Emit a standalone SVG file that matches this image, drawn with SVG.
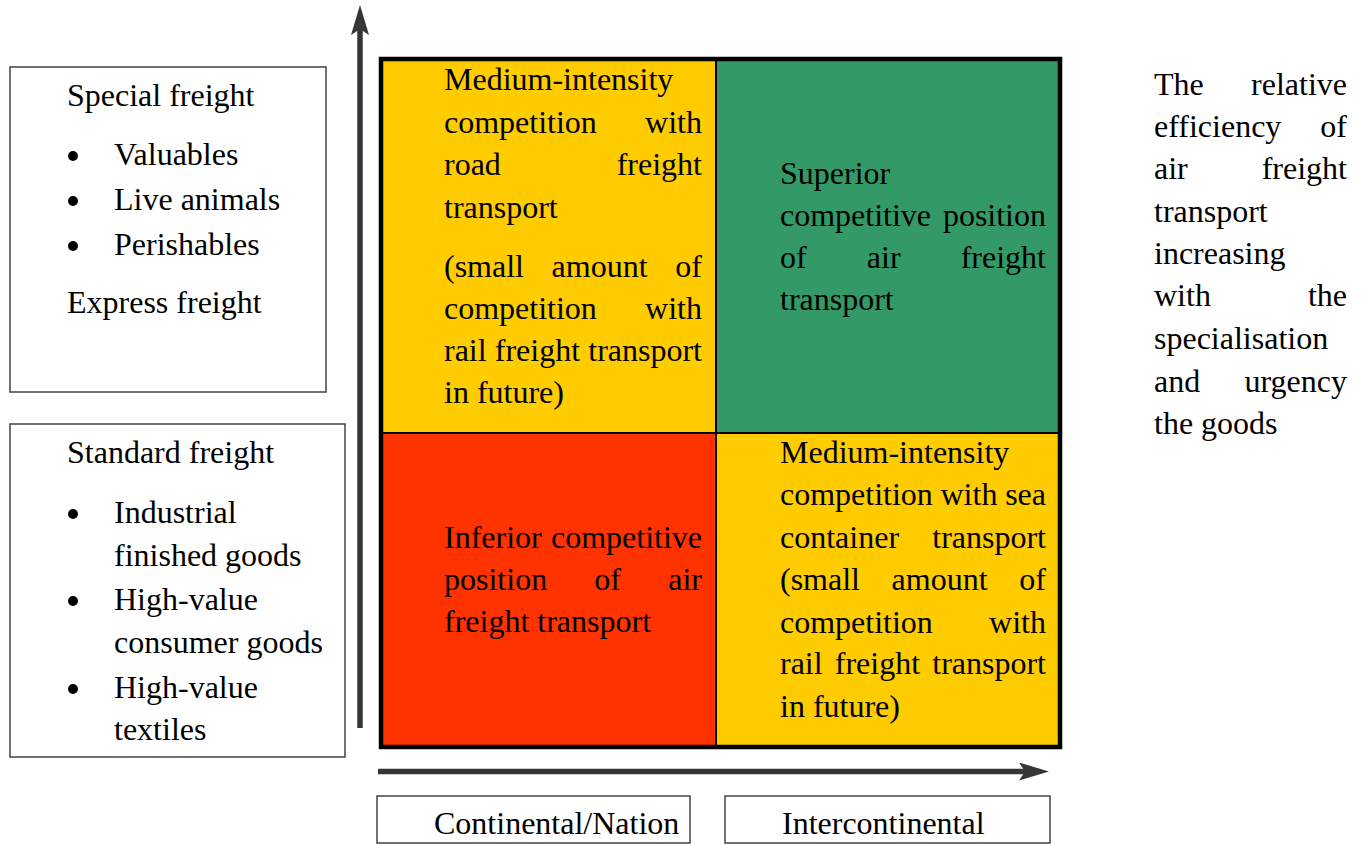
<svg xmlns="http://www.w3.org/2000/svg" width="1364" height="845" viewBox="0 0 1364 845">
<style>
.t{font-family:"Liberation Serif","Times New Roman",serif;font-size:32px;fill:#000}
.e{text-anchor:end}
.box{fill:#fff;stroke:#444;stroke-width:1.5}
.ax{stroke:#363636;stroke-width:5.5;fill:none}
.div{stroke:#000;stroke-width:2}
.bul{fill:#000}
</style>
<defs>
<marker id="ah" markerUnits="userSpaceOnUse" markerWidth="30" markerHeight="18" viewBox="0 0 30 18" refX="6" refY="9" orient="auto">
<path d="M0,0 L30,9 L0,18 L6,9 Z" fill="#363636"/>
</marker>
</defs>
<rect width="1364" height="845" fill="#fff"/>

<g id="connectors">
<line class="ax" x1="360" y1="728" x2="360" y2="29" marker-end="url(#ah)"/>
<line class="ax" x1="378" y1="771.5" x2="1025" y2="771.5" marker-end="url(#ah)"/>
</g>

<g id="special-freight">
<rect class="box" x="10" y="67" width="316" height="325"/>
<text class="t" x="67" y="106">Special freight</text>
<circle class="bul" cx="73" cy="156" r="5"/><text class="t" x="114" y="165">Valuables</text>
<circle class="bul" cx="73" cy="201" r="5"/><text class="t" x="114" y="210">Live animals</text>
<circle class="bul" cx="73" cy="246" r="5"/><text class="t" x="114" y="255">Perishables</text>
<text class="t" x="67" y="313">Express freight</text>
</g>

<g id="standard-freight">
<rect class="box" x="10" y="424" width="335" height="333"/>
<text class="t" x="67" y="463">Standard freight</text>
<circle class="bul" cx="73" cy="514" r="5"/><text class="t" x="114" y="523">Industrial</text>
<text class="t" x="114" y="566">finished goods</text>
<circle class="bul" cx="73" cy="601" r="5"/><text class="t" x="114" y="610">High-value</text>
<text class="t" x="114" y="653">consumer goods</text>
<circle class="bul" cx="73" cy="689" r="5"/><text class="t" x="114" y="698">High-value</text>
<text class="t" x="114" y="740">textiles</text>
</g>

<g id="cell-top-left">
<rect x="381" y="59" width="335" height="374" fill="#FFCC00"/>
<text class="t" x="444" y="90">Medium-intensity</text>
<text class="t" x="444" y="132.5">competition</text><text class="t e" x="702" y="132.5">with</text>
<text class="t" x="444" y="175">road</text><text class="t e" x="702" y="175">freight</text>
<text class="t" x="444" y="217.5">transport</text>
<text class="t" x="444" y="277">(small</text><text class="t" x="551.6" y="277">amount</text><text class="t e" x="702" y="277">of</text>
<text class="t" x="444" y="319">competition</text><text class="t e" x="702" y="319">with</text>
<text class="t" x="444" y="361">rail</text><text class="t" x="494.8" y="361">freight</text><text class="t e" x="702" y="361">transport</text>
<text class="t" x="444" y="403">in future)</text>
</g>

<g id="cell-top-right">
<rect x="716" y="59" width="344" height="374" fill="#339966"/>
<text class="t" x="780" y="184">Superior</text>
<text class="t" x="780" y="226">competitive</text><text class="t e" x="1046" y="226">position</text>
<text class="t" x="780" y="268">of</text><text class="t" x="866.8" y="268">air</text><text class="t e" x="1046" y="268">freight</text>
<text class="t" x="780" y="310">transport</text>
</g>

<g id="cell-bottom-left">
<rect x="381" y="433" width="335" height="314" fill="#FF3300"/>
<text class="t" x="444" y="548">Inferior</text><text class="t e" x="702" y="548">competitive</text>
<text class="t" x="444" y="590">position</text><text class="t" x="594.3" y="590">of</text><text class="t e" x="702" y="590">air</text>
<text class="t" x="444" y="632">freight transport</text>
</g>

<g id="cell-bottom-right">
<rect x="716" y="433" width="344" height="314" fill="#FFCC00"/>
<text class="t" x="780" y="463">Medium-intensity</text>
<text class="t" x="780" y="505">competition</text><text class="t" x="940.5" y="505">with</text><text class="t e" x="1046" y="505">sea</text>
<text class="t" x="780" y="548">container</text><text class="t e" x="1046" y="548">transport</text>
<text class="t" x="780" y="590">(small</text><text class="t" x="891.6" y="590">amount</text><text class="t e" x="1046" y="590">of</text>
<text class="t" x="780" y="632.5">competition</text><text class="t e" x="1046" y="632.5">with</text>
<text class="t" x="780" y="674">rail</text><text class="t" x="834.8" y="674">freight</text><text class="t e" x="1046" y="674">transport</text>
<text class="t" x="780" y="717">in future)</text>
</g>

<g id="grid-frame">
<line class="div" x1="716" y1="59" x2="716" y2="747"/>
<line class="div" x1="381" y1="433" x2="1060" y2="433"/>
<rect x="381" y="59" width="679" height="688" fill="none" stroke="#000" stroke-width="4.5"/>
</g>

<g id="efficiency-note">
<text class="t" x="1154" y="95">The</text><text class="t e" x="1347" y="95">relative</text>
<text class="t" x="1154" y="137">efficiency</text><text class="t e" x="1347" y="137">of</text>
<text class="t" x="1154" y="179">air</text><text class="t e" x="1347" y="179">freight</text>
<text class="t" x="1154" y="222">transport</text>
<text class="t" x="1154" y="264">increasing</text>
<text class="t" x="1154" y="306">with</text><text class="t e" x="1347" y="306">the</text>
<text class="t" x="1154" y="349">specialisation</text>
<text class="t" x="1154" y="392">and</text><text class="t e" x="1347" y="392">urgency</text>
<text class="t" x="1154" y="434">the goods</text>
</g>

<g id="continental">
<rect class="box" x="377" y="796" width="313" height="47"/>
<text class="t" x="434" y="834">Continental/Nation</text>
</g>

<g id="intercontinental">
<rect class="box" x="725" y="796" width="325" height="47"/>
<text class="t" x="782" y="834">Intercontinental</text>
</g>
</svg>
